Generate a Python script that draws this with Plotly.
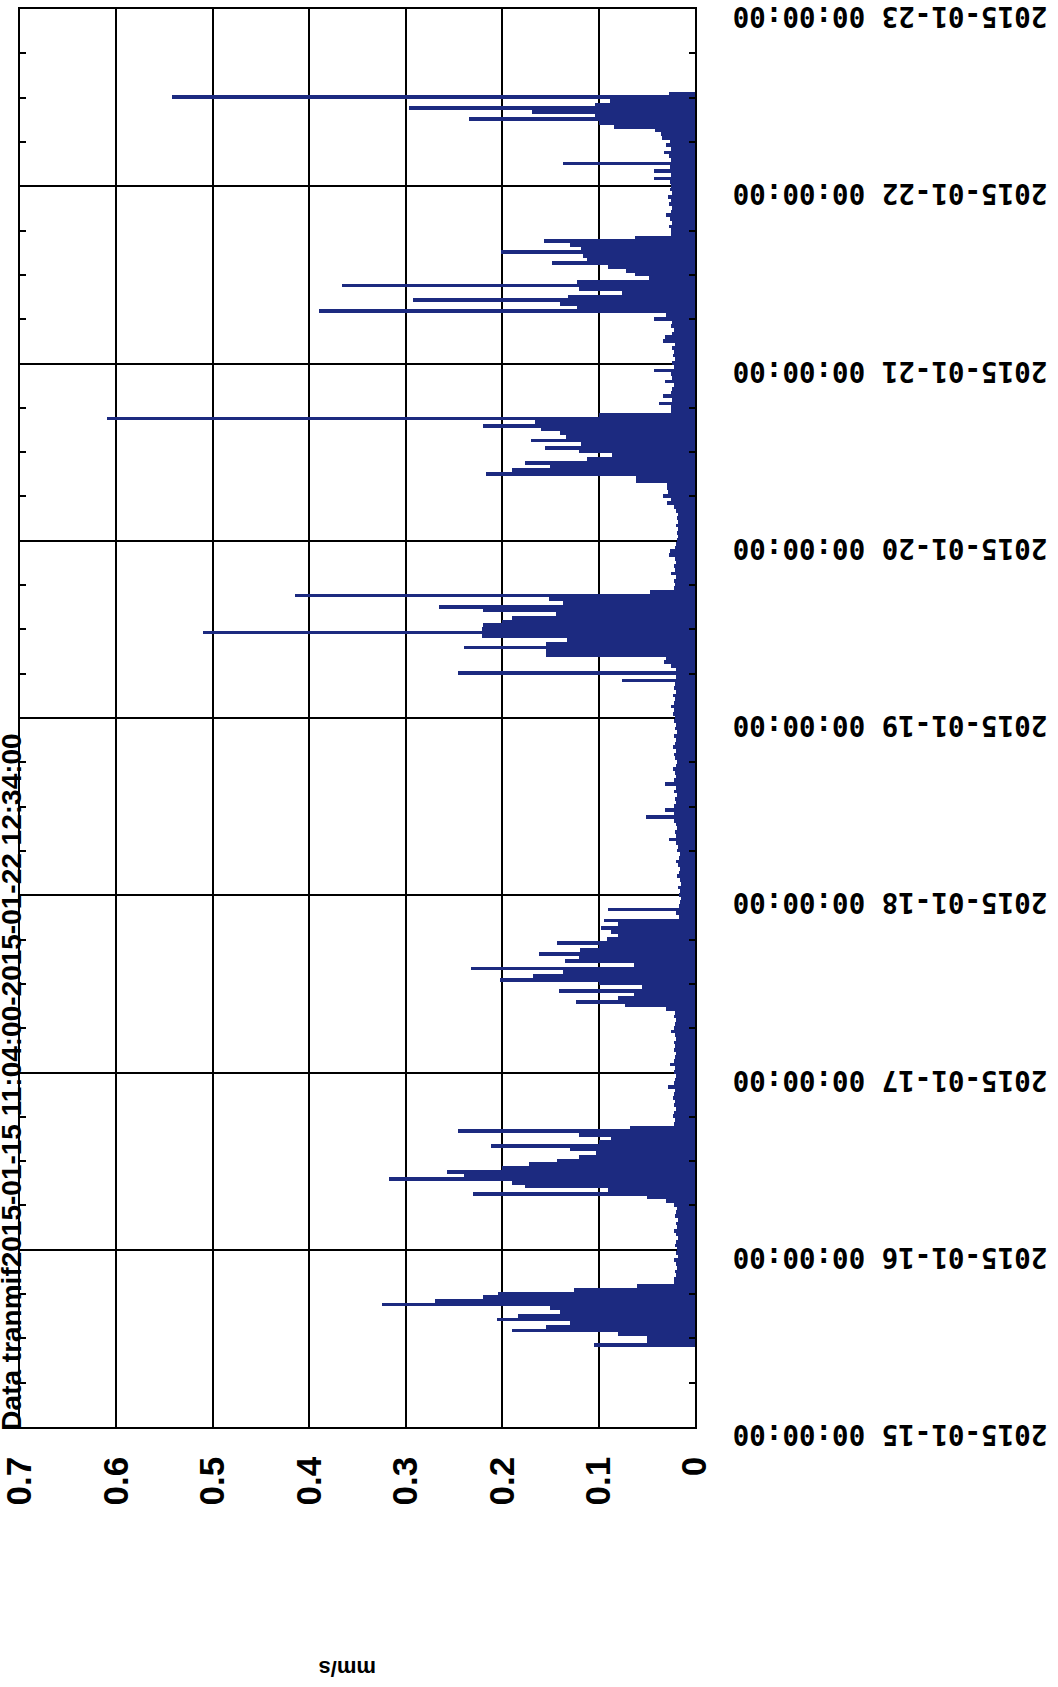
import pandas as pd
import plotly.graph_objects as go

# --- data: vibration velocity (mm/s), 30-minute samples, one array per segment ---
seg1_start = "2015-01-15 11:04"
seg1 = [0.105, 0.05, 0.05, 0.08, 0.19, 0.155, 0.13, 0.205, 0.184, 0.14, 0.15, 0.325,
        0.27, 0.22, 0.204, 0.125, 0.06, 0.022]
seg2_start = "2015-01-15 20:04"
seg2 = [0.022, 0.02, 0.021, 0.019, 0.02, 0.022, 0.018, 0.02, 0.019, 0.021, 0.02, 0.018,
        0.02, 0.022, 0.019, 0.02, 0.018, 0.021, 0.02, 0.019, 0.022, 0.03]
seg3_start = "2015-01-16 07:04"
seg3 = [0.05, 0.23, 0.09, 0.176, 0.19, 0.317, 0.24, 0.257, 0.2, 0.172, 0.143, 0.12,
        0.103, 0.13, 0.212, 0.1, 0.087, 0.12, 0.246, 0.067]
seg4_start = "2015-01-16 17:04"
seg4 = [0.022, 0.021, 0.023, 0.022, 0.02, 0.022, 0.021, 0.023, 0.022, 0.021, 0.028, 0.022,
        0.021, 0.02, 0.022, 0.021, 0.026, 0.022, 0.021, 0.02, 0.022, 0.021, 0.022, 0.02,
        0.021, 0.025, 0.022, 0.021, 0.02, 0.022, 0.021, 0.03]
seg5_start = "2015-01-17 09:04"
seg5 = [0.073, 0.123, 0.08, 0.063, 0.141, 0.055, 0.1, 0.202, 0.168, 0.137, 0.232, 0.063,
        0.135, 0.12, 0.162, 0.119, 0.1, 0.143, 0.091, 0.08, 0.087, 0.097, 0.08, 0.094,
        0.017, 0.02, 0.09, 0.017]
seg6_start = "2015-01-17 23:04"
seg6 = [0.016, 0.015, 0.017, 0.016, 0.018, 0.015, 0.016, 0.019, 0.017, 0.016, 0.018, 0.02,
        0.017, 0.016, 0.019, 0.018, 0.02, 0.027, 0.02, 0.021, 0.019, 0.02, 0.022, 0.051,
        0.022, 0.031, 0.022, 0.02, 0.021, 0.019, 0.022, 0.02, 0.031, 0.022, 0.02, 0.021,
        0.023, 0.02, 0.019, 0.021, 0.022, 0.02, 0.023, 0.021, 0.02, 0.022, 0.019, 0.021,
        0.02, 0.022, 0.021, 0.023, 0.022, 0.025, 0.022, 0.021, 0.023, 0.02, 0.022, 0.021]
seg7_start = "2015-01-19 05:04"
seg7 = [0.076, 0.02, 0.246, 0.02, 0.025, 0.032, 0.03, 0.155, 0.155, 0.24, 0.155, 0.133,
        0.221, 0.51, 0.221, 0.22, 0.2, 0.19, 0.144, 0.22, 0.266, 0.137, 0.151, 0.415,
        0.047, 0.022]
seg8_start = "2015-01-19 18:04"
seg8 = [0.021, 0.022, 0.02, 0.025, 0.021, 0.022, 0.02, 0.021, 0.027, 0.026, 0.021, 0.02,
        0.019, 0.018, 0.019, 0.018, 0.02, 0.018, 0.019, 0.018, 0.02, 0.022, 0.029, 0.025,
        0.033, 0.028, 0.029]
seg9_start = "2015-01-20 07:34"
seg9 = [0.029, 0.061, 0.061, 0.217, 0.19, 0.15, 0.176, 0.112, 0.086, 0.12, 0.156, 0.118,
        0.17, 0.134, 0.14, 0.16, 0.22, 0.166, 0.61, 0.1, 0.025]
seg10_start = "2015-01-20 18:04"
seg10 = [0.025, 0.037, 0.024, 0.033, 0.025, 0.024, 0.022, 0.031, 0.024, 0.025, 0.043, 0.022,
         0.024, 0.021, 0.023, 0.022, 0.024, 0.021, 0.033, 0.031, 0.024, 0.022, 0.025, 0.024,
         0.043, 0.03]
seg11_start = "2015-01-21 07:04"
seg11 = [0.39, 0.122, 0.14, 0.292, 0.132, 0.076, 0.12, 0.366, 0.122, 0.048, 0.062, 0.072,
         0.09, 0.148, 0.112, 0.116, 0.201, 0.118, 0.13, 0.157, 0.062, 0.025]
seg12_start = "2015-01-21 18:04"
seg12 = [0.025, 0.027, 0.024, 0.026, 0.03, 0.025, 0.024, 0.027, 0.025, 0.028, 0.024, 0.026,
         0.025, 0.026, 0.043, 0.025, 0.043, 0.026, 0.137, 0.025, 0.027, 0.032, 0.025, 0.03,
         0.026, 0.034, 0.035, 0.042, 0.084, 0.1, 0.234, 0.104, 0.169, 0.297, 0.104, 0.088,
         0.542, 0.027]

segments = [(seg1_start, seg1), (seg2_start, seg2), (seg3_start, seg3), (seg4_start, seg4),
            (seg5_start, seg5), (seg6_start, seg6), (seg7_start, seg7), (seg8_start, seg8),
            (seg9_start, seg9), (seg10_start, seg10), (seg11_start, seg11), (seg12_start, seg12)]

x_ticks = [0, 0.1, 0.2, 0.3, 0.4, 0.5, 0.6, 0.7]
x_ticktext = ["0", "0.1", "0.2", "0.3", "0.4", "0.5", "0.6", "0.7"]
title_text = "Data tranmif2015-01-15 11:04:00-2015-01-22 12:34:00"
unit_text = "mm/s"

times, values = [], []
for start, vals in segments:
    times.extend(pd.date_range(start, periods=len(vals), freq="30min"))
    values.extend(vals)

NAVY = "#1c2a80"

fig = go.Figure()
fig.add_trace(go.Bar(
    y=times, x=values, orientation="h", width=1800000,
    marker=dict(color=NAVY, line=dict(width=0)), showlegend=False,
))

fig.update_layout(
    width=1058, height=1687,
    margin=dict(l=20, r=363, t=9, b=260, autoexpand=False),
    paper_bgcolor="white", plot_bgcolor="white",
    bargap=0,
    xaxis=dict(
        range=[0.7, 0], tickvals=x_ticks, ticktext=x_ticktext, automargin=False,
        ticklabeloverflow="allow",
        showgrid=True, gridcolor="black", gridwidth=1.5,
        showline=True, linecolor="black", linewidth=1.5, mirror=True,
        zeroline=False, ticks="", tickangle=-90, ticklabelstandoff=14,
        tickfont=dict(family="Liberation Sans, Arial, sans-serif", size=35,
                      color="black", weight="bold"),
    ),
    yaxis=dict(
        type="date", range=["2015-01-15", "2015-01-23"], side="right", automargin=False,
        ticklabeloverflow="allow",
        dtick=86400000, tick0="2015-01-15", tickformat="%Y-%m-%d %H:%M:%S",
        showgrid=True, gridcolor="black", gridwidth=1.5,
        showline=True, linecolor="black", linewidth=1.5, mirror="ticks",
        zeroline=False, ticks="", tickangle=180,
        ticklabelstandoff=345, ticklabelshift=16,
        tickfont=dict(family="DejaVu Sans Mono, monospace", size=27.5,
                      color="black", weight="bold"),
        minor=dict(dtick=21600000, ticks="inside", ticklen=6, tickwidth=1.5,
                   tickcolor="black", showgrid=False),
    ),
    annotations=[
        dict(text=title_text, xref="paper", yref="paper", x=-0.013, y=0.243,
             xanchor="center", yanchor="middle", textangle=-90, showarrow=False,
             font=dict(family="Liberation Sans Narrow, Arial Narrow, Liberation Sans, sans-serif",
                       size=28, color="black", weight="bold")),
        dict(text=unit_text, xref="paper", yref="paper", x=0.4844, y=-0.1698,
             xanchor="center", yanchor="middle", textangle=180, showarrow=False,
             font=dict(family="Liberation Sans, Arial, sans-serif", size=22,
                       color="black", weight="bold")),
    ],
)

fig.write_html("out.html", config={"displayModeBar": False},
               post_script="document.body.style.margin='0';document.body.style.overflow='hidden';")
